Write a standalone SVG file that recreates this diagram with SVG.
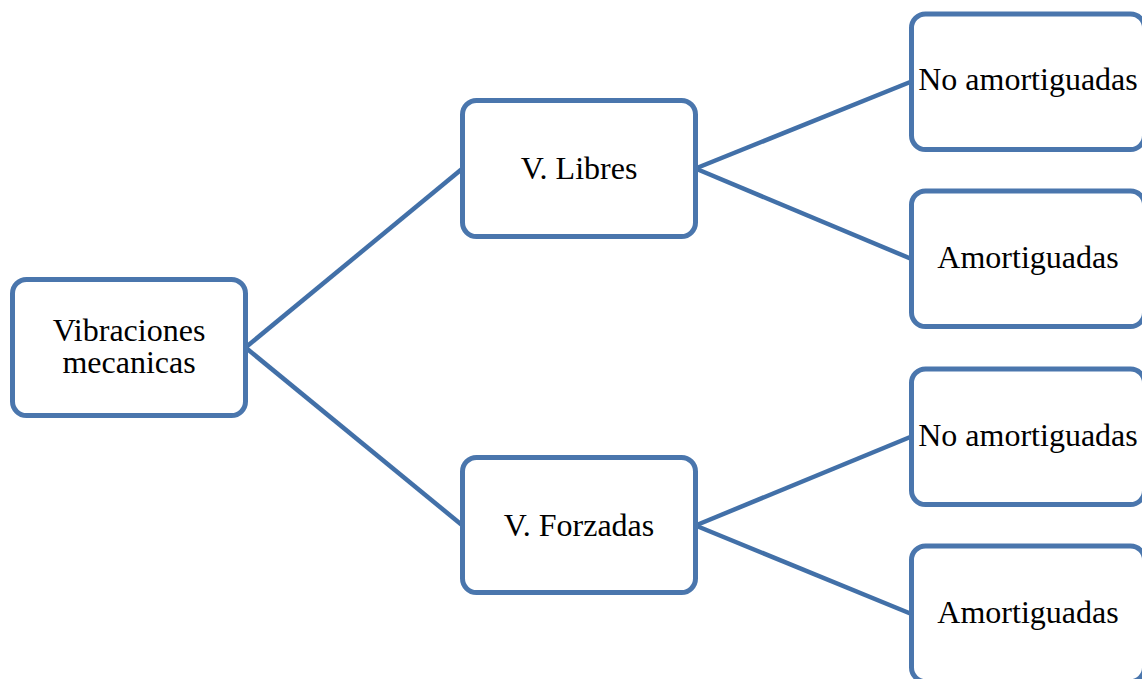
<svg xmlns="http://www.w3.org/2000/svg" width="1142" height="679" viewBox="0 0 1142 679">
  <style>
    .box { fill: #ffffff; stroke: #4a76ad; stroke-width: 5; }
    .link { stroke: #4270a8; stroke-width: 4.5; fill: none; }
    .label { font-family: "Liberation Serif", "Times New Roman", serif; font-size: 32px; fill: #000000; text-anchor: middle; }
  </style>
  <rect width="1142" height="679" fill="#ffffff"/>
  <g id="connectors">
    <line class="link" x1="245.5" y1="347.5" x2="462.5" y2="168.5"/>
    <line class="link" x1="245.5" y1="347.5" x2="462.5" y2="525.5"/>
    <line class="link" x1="695.5" y1="168.5" x2="911.5" y2="81.5"/>
    <line class="link" x1="695.5" y1="168.5" x2="911.5" y2="259"/>
    <line class="link" x1="695.5" y1="525.5" x2="911.5" y2="436.5"/>
    <line class="link" x1="695.5" y1="525.5" x2="911.5" y2="614"/>
  </g>
  <g id="root">
    <rect class="box" x="12.5" y="279.5" width="233" height="136" rx="14"/>
    <text class="label" x="129" y="341">Vibraciones</text>
    <text class="label" x="129" y="373">mecanicas</text>
  </g>
  <g id="libres">
    <rect class="box" x="462.5" y="100.5" width="233" height="136" rx="14"/>
    <text class="label" x="579" y="179">V. Libres</text>
  </g>
  <g id="forzadas">
    <rect class="box" x="462.5" y="457.5" width="233" height="135" rx="14"/>
    <text class="label" x="579" y="536">V. Forzadas</text>
  </g>
  <g id="libres-no-amortiguadas">
    <rect class="box" x="911.5" y="14" width="233" height="135.5" rx="14"/>
    <text class="label" x="1028" y="90">No amortiguadas</text>
  </g>
  <g id="libres-amortiguadas">
    <rect class="box" x="911.5" y="191" width="233" height="135.5" rx="14"/>
    <text class="label" x="1028" y="268">Amortiguadas</text>
  </g>
  <g id="forzadas-no-amortiguadas">
    <rect class="box" x="911.5" y="369" width="233" height="135.5" rx="14"/>
    <text class="label" x="1028" y="446">No amortiguadas</text>
  </g>
  <g id="forzadas-amortiguadas">
    <rect class="box" x="911.5" y="546" width="233" height="135.5" rx="14"/>
    <text class="label" x="1028" y="623">Amortiguadas</text>
  </g>
</svg>
